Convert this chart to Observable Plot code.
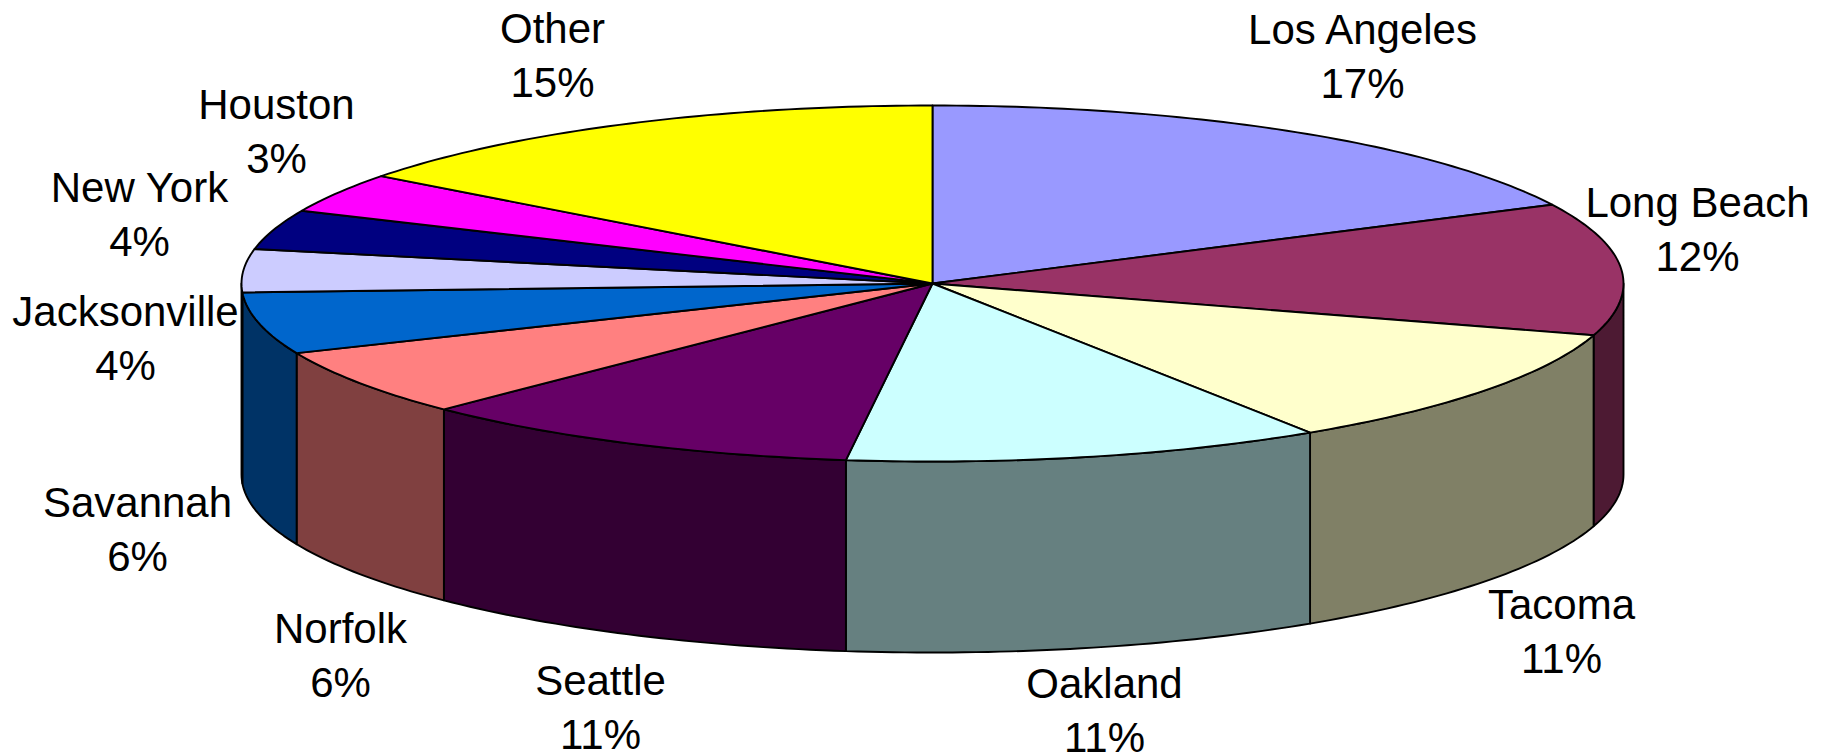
<!DOCTYPE html>
<html>
<head>
<meta charset="utf-8">
<script src="https://cdn.jsdelivr.net/npm/d3@7"></script>
<script src="https://cdn.jsdelivr.net/npm/@observablehq/plot@0.6"></script>
<style>
  html, body { margin: 0; padding: 0; background: #fff; overflow: hidden; }
  svg { display: block; }
</style>
</head>
<body>
<div id="chart"></div>
<script>
// Data, clockwise from 12 o'clock
const ports = ["Los Angeles","Long Beach","Tacoma","Oakland","Seattle","Norfolk","Savannah","Jacksonville","New York","Houston","Other"];
const percentLabels = [17,12,11,11,11,6,6,4,4,3,15];
const drawnShares = [17.7,12.0,11.1,11.2,10.5,6.1,5.6,3.9,3.6,3.6,14.7];
const topColors = ["#9999FF","#993366","#FFFFCC","#CCFFFF","#660066","#FF8080","#0066CC","#CCCCFF","#000080","#FF00FF","#FFFF00"];
const sideColors = ["#4D4D80","#4D1A33","#808066","#668080","#330033","#804040","#003366","#666680","#000040","#800080","#808000"];
// Label centres in page pixels
const labelPx = [1362,1697,1561,1104,600,340,137,125,139,276,552];
const labelPy = [53,226,628,707,704,652,526,335,211,128,52];

const W = 1826, H = 756;
const cx = 932, cy = 283, rx = 691, ry = 178, depth = 191;

// Everything is drawn in pie units: the top ellipse has radius 1 on both scales.
const depthUnits = depth / ry;
const deg = d3.sum(drawnShares) / 360;
let acc = 0;
const spans = drawnShares.map((v, i) => {
  const a0 = acc / deg; acc += v;
  return {i, a0, a1: acc / deg};
});
const rim = (a, drop = 0) => ({
  x: Math.sin(a * Math.PI / 180),
  y: Math.cos(a * Math.PI / 180) - drop
});
const arc = (a0, a1, drop = 0) => {
  const n = Math.max(2, Math.ceil((a1 - a0) / 1));
  return d3.range(n + 1).map(k => rim(a0 + (a1 - a0) * k / n, drop));
};

const sides = [];
spans.forEach(({i, a0, a1}) => {
  const s0 = Math.max(a0, 90), s1 = Math.min(a1, 270);
  if (s1 <= s0) return;
  const pts = [...arc(s0, s1), ...arc(s0, s1, depthUnits).reverse(), rim(s0)];
  pts.forEach(p => sides.push({...p, id: ports[i], fill: sideColors[i]}));
});
const tops = [];
spans.forEach(({i, a0, a1}) => {
  const pts = [{x: 0, y: 0}, ...arc(a0, a1), {x: 0, y: 0}];
  pts.forEach(p => tops.push({...p, id: ports[i], fill: topColors[i]}));
});
const labels = ports.map((p, i) => ({
  x: (labelPx[i] - cx) / rx,
  y: (cy - labelPy[i]) / ry,
  text: `${p}\n${percentLabels[i]}%`
}));

const lineStyle = {x: "x", y: "y", z: "id", fill: "fill", stroke: "#000", strokeWidth: 1.9, strokeLinejoin: "round"};

const chart = Plot.plot({
  width: W, height: H,
  margin: 0,
  style: {background: "#fff", overflow: "visible"},
  x: {domain: [-cx / rx, (W - cx) / rx], range: [0, W], axis: null},
  y: {domain: [cy / ry, (cy - H) / ry], range: [0, H], axis: null},
  marks: [
    Plot.line(sides, lineStyle),
    Plot.line(tops, lineStyle),
    Plot.text(labels, {
      x: "x", y: "y", text: "text",
      fill: "#000",
      fontFamily: "Liberation Sans",
      fontSize: 42,
      lineHeight: 1.286,
      textAnchor: "middle",
      lineAnchor: "middle"
    })
  ]
});
document.getElementById("chart").appendChild(chart);
</script>
</body>
</html>
